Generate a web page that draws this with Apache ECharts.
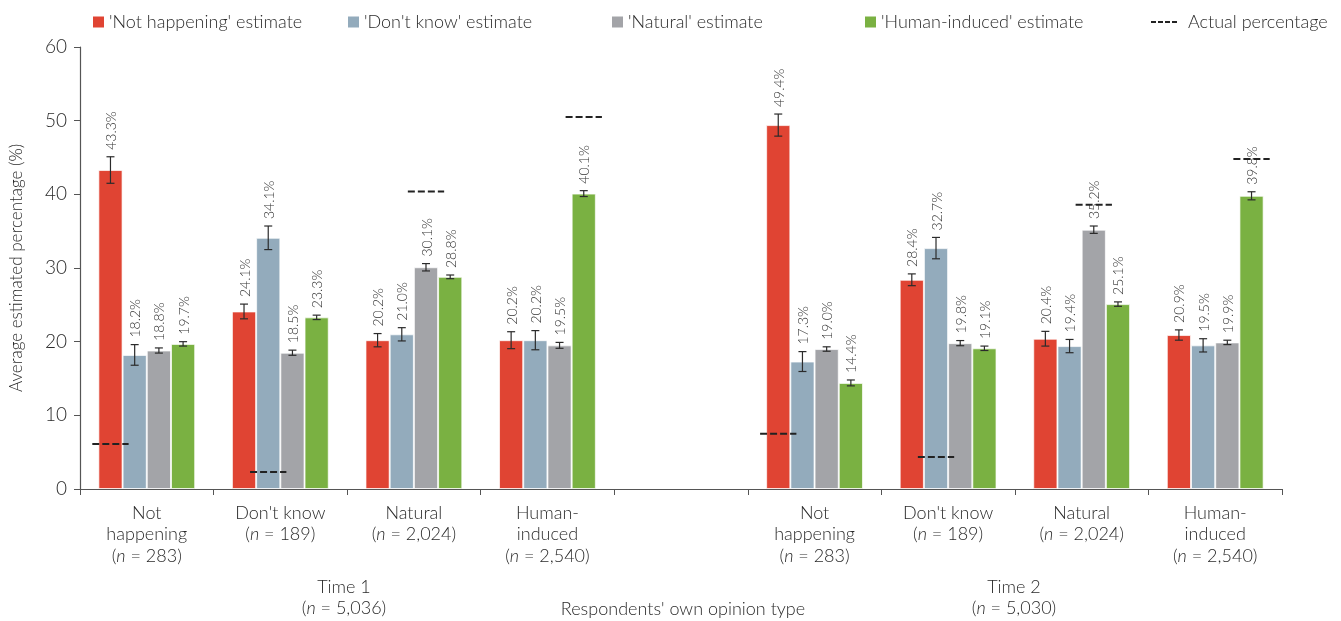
<!DOCTYPE html>
<html>
<head>
<meta charset="utf-8">
<script src="https://cdn.jsdelivr.net/npm/echarts@6/dist/echarts.min.js"></script>
<style>
  html, body { margin: 0; padding: 0; background: #fff; }
  #chart { width: 1341px; height: 621px; }
</style>
</head>
<body>
<div id="chart"></div>
<script>
// Opinion groups (Time 1, gap, Time 2)
const groupNames = ['Not\nhappening', "Don't know", 'Natural', 'Human-\ninduced', '', 'Not\nhappening', "Don't know", 'Natural', 'Human-\ninduced'];
const groupN = ['283', '189', '2,024', '2,540', '', '283', '189', '2,024', '2,540'];

// Average estimated percentage for each estimate type
const notHappening = [43.3, 24.1, 20.2, 20.2, null, 49.4, 28.4, 20.4, 20.9];
const dontKnow     = [18.2, 34.1, 21.0, 20.2, null, 17.3, 32.7, 19.4, 19.5];
const natural      = [18.8, 18.5, 30.1, 19.5, null, 19.0, 19.8, 35.2, 19.9];
const humanInduced = [19.7, 23.3, 28.8, 40.1, null, 14.4, 19.1, 25.1, 39.8];

// Half-widths of the error bars
const notHappeningErr = [1.8, 1.0, 0.9, 1.15, null, 1.5, 0.8, 1.0, 0.7];
const dontKnowErr     = [1.4, 1.6, 0.9, 1.3, null, 1.35, 1.45, 0.9, 0.9];
const naturalErr      = [0.35, 0.35, 0.5, 0.4, null, 0.3, 0.35, 0.5, 0.3];
const humanInducedErr = [0.3, 0.3, 0.25, 0.4, null, 0.4, 0.3, 0.3, 0.55];

// Actual share of each opinion type (drawn over the matching bar)
const actualPct = [6.1, 2.3, 40.4, 50.5, null, 7.5, 4.35, 38.6, 44.8];
const actualBar = [0, 1, 2, 3, null, 0, 1, 2, 3];

const yTicks = { min: 0, max: 60, interval: 10 };

const seriesNames = ["'Not happening' estimate", "'Don't know' estimate", "'Natural' estimate", "'Human-induced' estimate"];
const colors = ['#E04433', '#93ABBC', '#A3A4A8', '#7AB142'];
const values = [notHappening, dontKnow, natural, humanInduced];
const errors = [notHappeningErr, dontKnowErr, naturalErr, humanInducedErr];

const FONT = 'Lato, "Open Sans", sans-serif';
const FW = 300;
const TXT = '#2a2a2a';
const CAT_GAP = 0.275;

function barCenter(api, cat, barIdx) {
  const catW = api.size([1, 0])[0];
  const bw = catW * (1 - CAT_GAP) / 4;
  return { x: api.coord([cat, 0])[0] + (barIdx - 1.5) * bw, bw: bw };
}

function errorRenderer(barIdx) {
  return function (params, api) {
    const cat = api.value(0), v = api.value(1), e = api.value(2);
    const x = barCenter(api, cat, barIdx).x;
    const yTop = api.coord([cat, v + e])[1];
    const yBot = api.coord([cat, v - e])[1];
    const cap = 4;
    const st = { stroke: '#2b2b2b', lineWidth: 1.2 };
    return {
      type: 'group',
      children: [
        { type: 'line', shape: { x1: x, y1: yTop, x2: x, y2: yBot }, style: st },
        { type: 'line', shape: { x1: x - cap, y1: yTop, x2: x + cap, y2: yTop }, style: st },
        { type: 'line', shape: { x1: x - cap, y1: yBot, x2: x + cap, y2: yBot }, style: st },
        {
          type: 'text', x: x + 1, y: yTop - 7, rotation: Math.PI / 2,
          style: { text: v.toFixed(1) + '%', align: 'left', verticalAlign: 'middle', fontSize: 14, fontWeight: FW, fill: '#333', fontFamily: FONT }
        }
      ]
    };
  };
}

function actualRenderer(params, api) {
  const cat = api.value(0), v = api.value(1), b = api.value(2);
  const c = barCenter(api, cat, b);
  const y = api.coord([cat, v])[1];
  const half = c.bw * 0.75;
  return {
    type: 'line',
    shape: { x1: c.x - half, y1: y, x2: c.x + half, y2: y },
    style: { stroke: '#222', lineWidth: 2, lineDash: [7, 3] }
  };
}

const series = [];
values.forEach((vals, i) => {
  series.push({
    name: seriesNames[i],
    type: 'bar',
    data: vals,
    barGap: '0%',
    barCategoryGap: (CAT_GAP * 100) + '%',
    itemStyle: { color: colors[i], borderColor: 'rgba(255,255,255,0.7)', borderWidth: 1 },
    emphasis: { disabled: true },
    z: 2
  });
});
values.forEach((vals, i) => {
  const data = [];
  vals.forEach((v, k) => { if (v != null) data.push([k, v, errors[i][k]]); });
  series.push({
    name: seriesNames[i] + ' error',
    type: 'custom',
    renderItem: errorRenderer(i),
    data: data,
    z: 5,
    silent: true
  });
});
const actualData = [];
actualPct.forEach((v, k) => { if (v != null) actualData.push([k, v, actualBar[k]]); });
series.push({
  name: 'Actual percentage',
  type: 'custom',
  renderItem: actualRenderer,
  data: actualData,
  itemStyle: { color: '#222' },
  z: 6,
  silent: true
});

const legendTextStyle = { fontSize: 18, fontWeight: FW, color: TXT, fontFamily: FONT };
const legendLefts = [88, 343, 607, 860];
const legends = seriesNames.map((n, i) => ({
  data: [n],
  left: legendLefts[i],
  top: 8,
  icon: 'rect',
  itemWidth: 11,
  itemHeight: 11,
  itemStyle: { borderWidth: 0 },
  textStyle: legendTextStyle,
  selectedMode: false
}));
legends.push({
  data: [{ name: 'Actual percentage', icon: 'path://M0,0h5v2h-5z M7,0h5v2h-5z M14,0h5v2h-5z M21,0h5v2h-5z' }],
  left: 1146,
  top: 8,
  itemWidth: 26,
  itemHeight: 2,
  textStyle: Object.assign({ padding: [0, 0, 0, 6] }, legendTextStyle),
  selectedMode: false
});

const richN = {
  it: { fontStyle: 'italic', fontSize: 18, fontWeight: FW, lineHeight: 21.5, color: TXT, fontFamily: FONT }
};

function gText(x, y, text) {
  return {
    type: 'text', x: x, y: y,
    style: { text: text, align: 'center', verticalAlign: 'middle', fontSize: 18, fontWeight: FW, fill: TXT, fontFamily: FONT }
  };
}
function gTextN(x, y, n) {
  const base = { fontSize: 18, fontWeight: FW, fill: TXT, fontFamily: FONT };
  return {
    type: 'text', x: x, y: y,
    style: {
      text: '{r|(}{it|n}{r| = ' + n + ')}', align: 'center', verticalAlign: 'middle',
      rich: { r: base, it: Object.assign({ fontStyle: 'italic' }, base) }
    }
  };
}

const option = {
  animation: false,
  textStyle: { fontFamily: FONT },
  legend: legends,
  grid: { left: 77, right: 59, top: 47, bottom: 132, containLabel: false },
  xAxis: {
    type: 'category',
    data: groupNames.map((g, i) => i),
    axisLine: { lineStyle: { color: '#555', width: 1.2 } },
    axisTick: { show: true, length: 6, lineStyle: { color: '#555' }, interval: 0 },
    axisLabel: {
      interval: 0,
      margin: 13,
      verticalAlign: 'top',
      fontSize: 18,
      fontWeight: FW,
      lineHeight: 21.5,
      color: TXT,
      fontFamily: FONT,
      formatter: function (v) {
        const i = +v;
        if (!groupN[i]) return '';
        return groupNames[i] + '\n({it|n} = ' + groupN[i] + ')';
      },
      rich: richN
    }
  },
  yAxis: {
    type: 'value',
    min: yTicks.min,
    max: yTicks.max,
    interval: yTicks.interval,
    name: 'Average estimated percentage (%)',
    nameLocation: 'middle',
    nameGap: 55,
    nameTextStyle: { fontSize: 17, fontWeight: FW, color: TXT, fontFamily: FONT },
    axisLine: { show: true, lineStyle: { color: '#555', width: 1.2 } },
    axisTick: { show: true, length: 6, lineStyle: { color: '#555' } },
    axisLabel: { fontSize: 19, fontWeight: FW, color: TXT, margin: 13, fontFamily: FONT },
    splitLine: { show: false }
  },
  graphic: [
    gText(344, 587, 'Time 1'),
    gTextN(344, 608, '5,036'),
    gText(1014, 587, 'Time 2'),
    gTextN(1014, 608, '5,030'),
    gText(683, 609, "Respondents' own opinion type")
  ],
  series: series
};

const chart = echarts.init(document.getElementById('chart'), null, { renderer: 'canvas' });
chart.setOption(option);
</script>
</body>
</html>
